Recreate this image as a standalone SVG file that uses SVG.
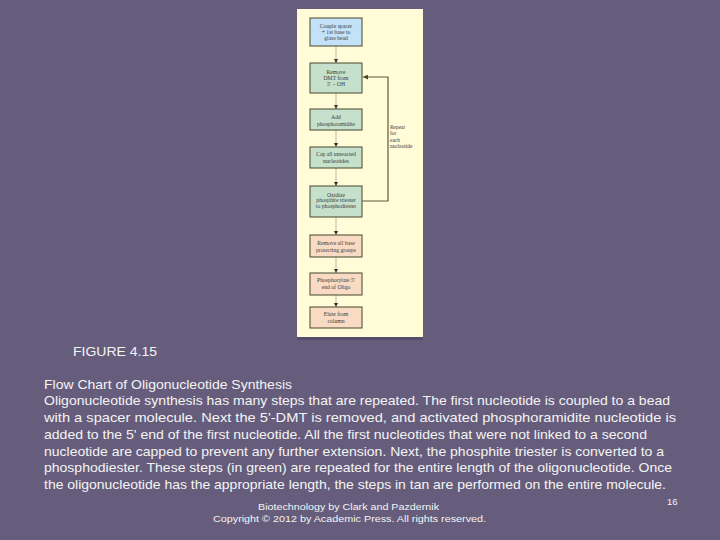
<svg xmlns="http://www.w3.org/2000/svg" width="720" height="540" viewBox="0 0 720 540">
<style>
.bg{fill:#665d7c}
.panel{fill:#fffcd7}
.box{stroke:#55553f;stroke-width:1.1}
.blue{fill:#c3e2f7}
.green{fill:#c6e1cb}
.tan{fill:#f9dbc4}
.bt{font-family:"Liberation Serif",serif;font-size:5.7px;fill:#3a3a3a;text-anchor:middle}
.step{stroke:#c8c4aa;stroke-width:1.2;fill:none}
.loop{stroke:#5a5a3e;stroke-width:1.2;fill:none}
.cap{font-family:"Liberation Sans",Arial,sans-serif;font-size:13px;fill:#f4f4f4}
.foot{font-family:"Liberation Sans",Arial,sans-serif;font-size:9.5px;fill:#f4f4f4}
</style>
<defs>
<marker id="ah" viewBox="0 0 6 6" refX="6" refY="3" markerWidth="4" markerHeight="4" markerUnits="userSpaceOnUse" orient="auto">
<path d="M0,0 L6,3 L0,6 z" fill="#333"/>
</marker>
<marker id="ah2" viewBox="0 0 6 6" refX="6" refY="3" markerWidth="5" markerHeight="5" markerUnits="userSpaceOnUse" orient="auto">
<path d="M0,0 L6,3 L0,6 z" fill="#4a4a30"/>
</marker>
</defs>
<rect class="bg" x="0" y="0" width="720" height="540"/>
<rect x="297" y="337" width="126" height="3" fill="#554d6a"/>
<rect class="panel" x="297" y="9" width="126" height="328"/>

<g id="connectors">
<line class="step" x1="336" y1="46" x2="336" y2="63" marker-end="url(#ah)"/>
<line class="step" x1="336" y1="93" x2="336" y2="109" marker-end="url(#ah)"/>
<line class="step" x1="336" y1="130" x2="336" y2="147" marker-end="url(#ah)"/>
<line class="step" x1="336" y1="168" x2="336" y2="186" marker-end="url(#ah)"/>
<line class="step" x1="336" y1="217" x2="336" y2="235" marker-end="url(#ah)"/>
<line class="step" x1="336" y1="257" x2="336" y2="273" marker-end="url(#ah)"/>
<line class="step" x1="336" y1="295" x2="336" y2="307" marker-end="url(#ah)"/>
<polyline class="loop" points="362,201 388,201 388,77 363,77" marker-end="url(#ah2)"/>
<g id="loop-label" class="bt" style="text-anchor:start;font-size:5.4px">
<text x="390" y="129">Repeat</text>
<text x="390" y="135">for</text>
<text x="390" y="141.5">each</text>
<text x="390" y="148">nucleotide</text>
</g>
</g>

<g id="n1"><rect class="box blue" x="310" y="18" width="52" height="28"/>
<text class="bt" x="336" y="27.5">Couple spacer</text><text class="bt" x="336" y="34">+ 1st base to</text><text class="bt" x="336" y="40">glass bead</text></g>
<g id="n2"><rect class="box green" x="310" y="63" width="52" height="30"/>
<text class="bt" x="336" y="73.5">Remove</text><text class="bt" x="336" y="79.5">DMT from</text><text class="bt" x="336" y="85.5">5′ – OH</text></g>
<g id="n3"><rect class="box green" x="310" y="109" width="52" height="21"/>
<text class="bt" x="336" y="118.5">Add</text><text class="bt" x="336" y="126">phosphoramidite</text></g>
<g id="n4"><rect class="box green" x="310" y="147" width="52" height="21"/>
<text class="bt" x="336" y="156">Cap all unreacted</text><text class="bt" x="336" y="163">nucleotides</text></g>
<g id="n5"><rect class="box green" x="310" y="186" width="52" height="31"/>
<text class="bt" x="336" y="196.8">Oxidize</text><text class="bt" x="336" y="202.3">phosphite triester</text><text class="bt" x="336" y="208">to phosphodiester</text></g>
<g id="n6"><rect class="box tan" x="310" y="235" width="52" height="22"/>
<text class="bt" x="336" y="245">Remove all base</text><text class="bt" x="336" y="251.5">protecting groups</text></g>
<g id="n7"><rect class="box tan" x="310" y="273" width="52" height="22"/>
<text class="bt" x="336" y="282">Phosphorylate 5′</text><text class="bt" x="336" y="289">end of Oligo</text></g>
<g id="n8"><rect class="box tan" x="310" y="307" width="52" height="21"/>
<text class="bt" x="336" y="316">Elute from</text><text class="bt" x="336" y="322.5">column</text></g>

<g id="caption">
<text class="cap" x="73" y="355.5" textLength="84" lengthAdjust="spacingAndGlyphs">FIGURE 4.15</text>
<text class="cap" x="44" y="388.5" textLength="248" lengthAdjust="spacingAndGlyphs">Flow Chart of Oligonucleotide Synthesis</text>
<text class="cap" x="44" y="405.3" textLength="626" lengthAdjust="spacingAndGlyphs">Oligonucleotide synthesis has many steps that are repeated. The first nucleotide is coupled to a bead</text>
<text class="cap" x="44" y="422" textLength="632" lengthAdjust="spacingAndGlyphs">with a spacer molecule. Next the 5'-DMT is removed, and activated phosphoramidite nucleotide is</text>
<text class="cap" x="44" y="438.8" textLength="603" lengthAdjust="spacingAndGlyphs">added to the 5' end of the first nucleotide. All the first nucleotides that were not linked to a second</text>
<text class="cap" x="44" y="455.6" textLength="620" lengthAdjust="spacingAndGlyphs">nucleotide are capped to prevent any further extension. Next, the phosphite triester is converted to a</text>
<text class="cap" x="44" y="472.4" textLength="628" lengthAdjust="spacingAndGlyphs">phosphodiester. These steps (in green) are repeated for the entire length of the oligonucleotide. Once</text>
<text class="cap" x="44" y="489.2" textLength="622" lengthAdjust="spacingAndGlyphs">the oligonucleotide has the appropriate length, the steps in tan are performed on the entire molecule.</text>
</g>
<g id="footer">
<text class="foot" x="258" y="510" textLength="181" lengthAdjust="spacingAndGlyphs">Biotechnology by Clark and Pazdernik</text>
<text class="foot" x="213" y="522" textLength="273" lengthAdjust="spacingAndGlyphs">Copyright © 2012 by Academic Press. All rights reserved.</text>
<text class="foot" x="667" y="505">16</text>
</g>
</svg>
